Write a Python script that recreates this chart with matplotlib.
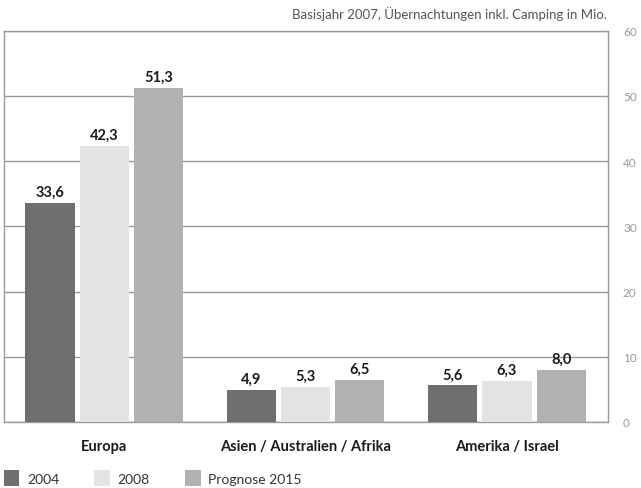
import matplotlib.pyplot as plt
import numpy as np

plt.rcParams['font.family'] = ['Lato', 'DejaVu Sans']

categories = ["Europa", "Asien / Australien / Afrika", "Amerika / Israel"]
series = ["2004", "2008", "Prognose 2015"]
v2004 = [33.6, 4.9, 5.6]
v2008 = [42.3, 5.3, 6.3]
v2015 = [51.3, 6.5, 8.0]
colors = ["#6f6f71", "#e3e3e4", "#b1b1b2"]

fig = plt.figure(figsize=(6.41, 4.89), dpi=100)
ax = fig.add_axes([0.0055, 0.135, 0.9425, 0.8])

x = np.arange(len(categories))
w = 0.244
step = 0.269
for i, (vals, c, lab) in enumerate(zip([v2004, v2008, v2015], colors, series)):
    bars = ax.bar(x + (i - 1) * step, vals, w, color=c, label=lab, zorder=3)
    for b, v in zip(bars, vals):
        ax.annotate(f"{v:.1f}".replace(".", ","), (b.get_x() + b.get_width() / 2, v),
                    xytext=(0, 3), textcoords="offset points", ha="center", va="bottom",
                    fontsize=10.5, fontweight="bold", color="#1a1a1a", zorder=4)

ax.set_xlim(-0.5, 2.5)
ax.set_ylim(0, 60)
ax.set_yticks(range(0, 61, 10))
ax.yaxis.tick_right()
ax.tick_params(axis="y", length=0, pad=11, labelsize=8.5, labelcolor="#999999")
ax.set_xticks(x)
ax.set_xticklabels(categories, fontsize=10.5, fontweight="bold", color="#1a1a1a")
ax.tick_params(axis="x", length=0, pad=12)
ax.grid(axis="y", color="#9a9a9a", linewidth=1, zorder=0)
for s in ax.spines.values():
    s.set_color("#9a9a9a")
    s.set_linewidth(1)

fig.text(0.946, 0.972, "Basisjahr 2007, Übernachtungen inkl. Camping in Mio.",
         ha="right", va="center", fontsize=9.5, color="#555555")

ax.legend(loc="center left", bbox_to_anchor=(0.0, -0.143), ncol=3, frameon=False,
          fontsize=10, handlelength=1.15, handleheight=1.39, handletextpad=0.55,
          columnspacing=2.5, labelcolor="#333333", borderpad=0, borderaxespad=0)

fig.savefig("out.png", dpi=100)
